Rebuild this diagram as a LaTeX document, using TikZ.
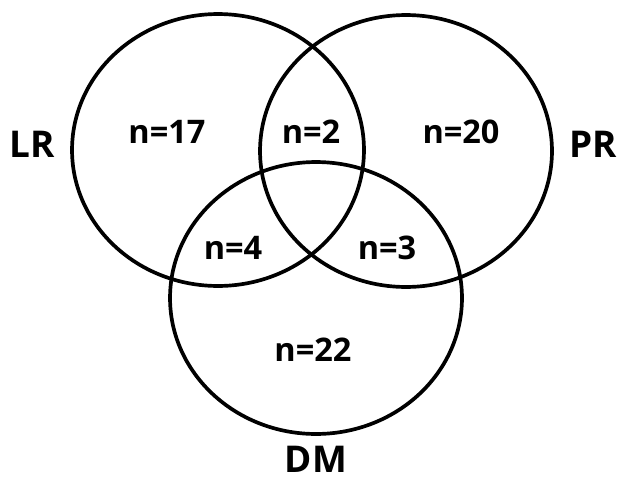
\documentclass[tikz,border=0pt]{standalone}
\usepackage{fontspec}
\setmainfont{Open Sans}
\usetikzlibrary{shapes.geometric, positioning}

\begin{document}
\begin{tikzpicture}[x = 0.02cm, y = -0.02cm, node distance = 3mm,
	set/.style = {ellipse, draw, line width = 2.1pt, minimum width = 5.84cm, minimum height = 5.44cm},
	count/.style = {font = \fontsize{18.5}{18.5}\selectfont\bfseries},
	setname/.style = {font = \fontsize{21}{21}\selectfont\bfseries, inner sep = 0pt}]

\useasboundingbox (0,0) rectangle (617,480);

\node[set]			(lr)		at (218,150)		{};
\node[set]			(pr)		at (406,151)		{};
\node[set]			(dm)		at (316,298)		{};

\node[setname]		(lrname)	[left=of lr.west, yshift=0.12cm]		{LR};
\node[setname]		(prname)	[right=of pr.east, yshift=0.14cm]		{PR};
\node[setname]		(dmname)	[below=2mm of dm.south]				{DM};

\node[count]		(lronly)	at (167,132)		{n=17};
\node[count]		(lrpr)		at (311,132)		{n=2};
\node[count]		(pronly)	at (461,132)		{n=20};
\node[count]		(lrdm)		at (233,248)		{n=4};
\node[count]		(prdm)		at (387,248)		{n=3};
\node[count]		(dmonly)	at (313,350)		{n=22};
\end{tikzpicture}
\end{document}
